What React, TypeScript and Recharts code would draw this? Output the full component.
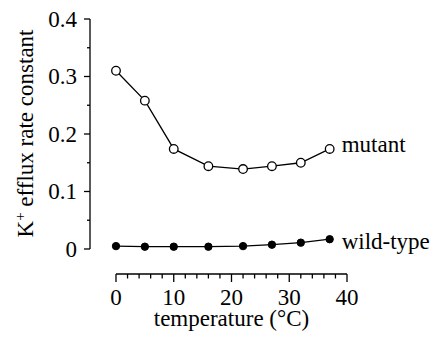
import React from 'react';
import { LineChart, Line, XAxis, YAxis, ReferenceLine } from 'recharts';

const temperatures = [0, 5, 10, 16, 22, 27, 32, 37];
const mutantRate = [0.31, 0.258, 0.174, 0.144, 0.139, 0.144, 0.15, 0.174];
const wildTypeRate = [0.005, 0.004, 0.004, 0.004, 0.005, 0.0075, 0.011, 0.017];

const xTicks = [0, 2, 4, 6, 8, 10, 12, 14, 16, 18, 20, 22, 24, 26, 28, 30, 32, 34, 36, 38, 40];
const yTicks = [0, 0.05, 0.1, 0.15, 0.2, 0.25, 0.3, 0.35, 0.4];

const data = temperatures.map((t, i) => ({
  t,
  mutant: mutantRate[i],
  wild: wildTypeRate[i],
}));

const FONT = "'Liberation Serif', 'DejaVu Serif', serif";
const FS = 23;
const txt = { fontFamily: FONT, fontSize: FS, fill: '#000' };
// axes sit a little outside the data range, like the original figure
const X_MIN = -4.5;
const Y_MIN = -0.0435;

const XTick = (props: any) => {
  const { x, y, payload } = props;
  const v = payload.value;
  const major = v % 10 === 0;
  return (
    <g>
      <line x1={x} x2={x} y1={y} y2={y + (major ? 8 : 4.5)} stroke="#000" strokeWidth={1.3} />
      {major && (
        <text x={x} y={y + 31} textAnchor="middle" style={txt}>
          {v}
        </text>
      )}
      {v === 20 && (
        <text x={x} y={y + 52} textAnchor="middle" style={txt}>
          temperature (°C)
        </text>
      )}
    </g>
  );
};

const YTick = (props: any) => {
  const { x, y, payload } = props;
  const v = payload.value;
  const major = Math.round(v * 100) % 10 === 0;
  return (
    <g>
      <line x1={x} x2={x - (major ? 6 : 3)} y1={y} y2={y} stroke="#000" strokeWidth={1.3} />
      {major && (
        <text x={x - 13} y={y + 8} textAnchor="end" style={txt}>
          {v === 0 ? '0' : v.toFixed(1)}
        </text>
      )}
    </g>
  );
};

const endLabel = (name: string, dy: number) => (props: any) => {
  const { x, y, index } = props;
  if (index !== data.length - 1) return <g />;
  return (
    <text x={x + 12} y={y + dy} style={txt}>
      {name}
    </text>
  );
};

export default function App() {
  return (
    <div style={{ position: 'absolute', left: 0, top: 0, background: '#fff' }}>
      <LineChart
        width={435}
        height={345}
        data={data}
        margin={{ top: 19, right: 88, bottom: 0, left: 0 }}
      >
        <XAxis
          dataKey="t"
          type="number"
          domain={[X_MIN, 40]}
          ticks={xTicks}
          interval={0}
          axisLine={false}
          tickLine={false}
          tickSize={0}
          tickMargin={0}
          height={71}
          tick={XTick}
        />
        <YAxis
          type="number"
          domain={[Y_MIN, 0.4]}
          ticks={yTicks}
          interval={0}
          axisLine={false}
          tickLine={false}
          tickSize={0}
          tickMargin={0}
          width={90}
          tick={YTick}
          label={{
            content: () => (
              <text transform="translate(33,133.5) rotate(-90)" textAnchor="middle" style={txt}>
                K<tspan dy={-8} style={{ fontSize: 15 }}>+</tspan>
                <tspan dy={8}> efflux rate constant</tspan>
              </text>
            ),
          }}
        />
        <ReferenceLine
          segment={[{ x: 0, y: Y_MIN }, { x: 40, y: Y_MIN }]}
          stroke="#000"
          strokeWidth={1.3}
        />
        <ReferenceLine
          segment={[{ x: X_MIN, y: 0 }, { x: X_MIN, y: 0.4 }]}
          stroke="#000"
          strokeWidth={1.3}
        />
        <Line
          dataKey="mutant"
          stroke="#000"
          strokeWidth={1.3}
          type="linear"
          dot={{ r: 4.3, fill: '#fff', stroke: '#000', strokeWidth: 1.3 }}
          label={endLabel('mutant', 3)}
          isAnimationActive={false}
        />
        <Line
          dataKey="wild"
          stroke="#000"
          strokeWidth={1.3}
          type="linear"
          dot={{ r: 3.7, fill: '#000', stroke: '#000', strokeWidth: 1 }}
          label={endLabel('wild-type', 10)}
          isAnimationActive={false}
        />
      </LineChart>
    </div>
  );
}
